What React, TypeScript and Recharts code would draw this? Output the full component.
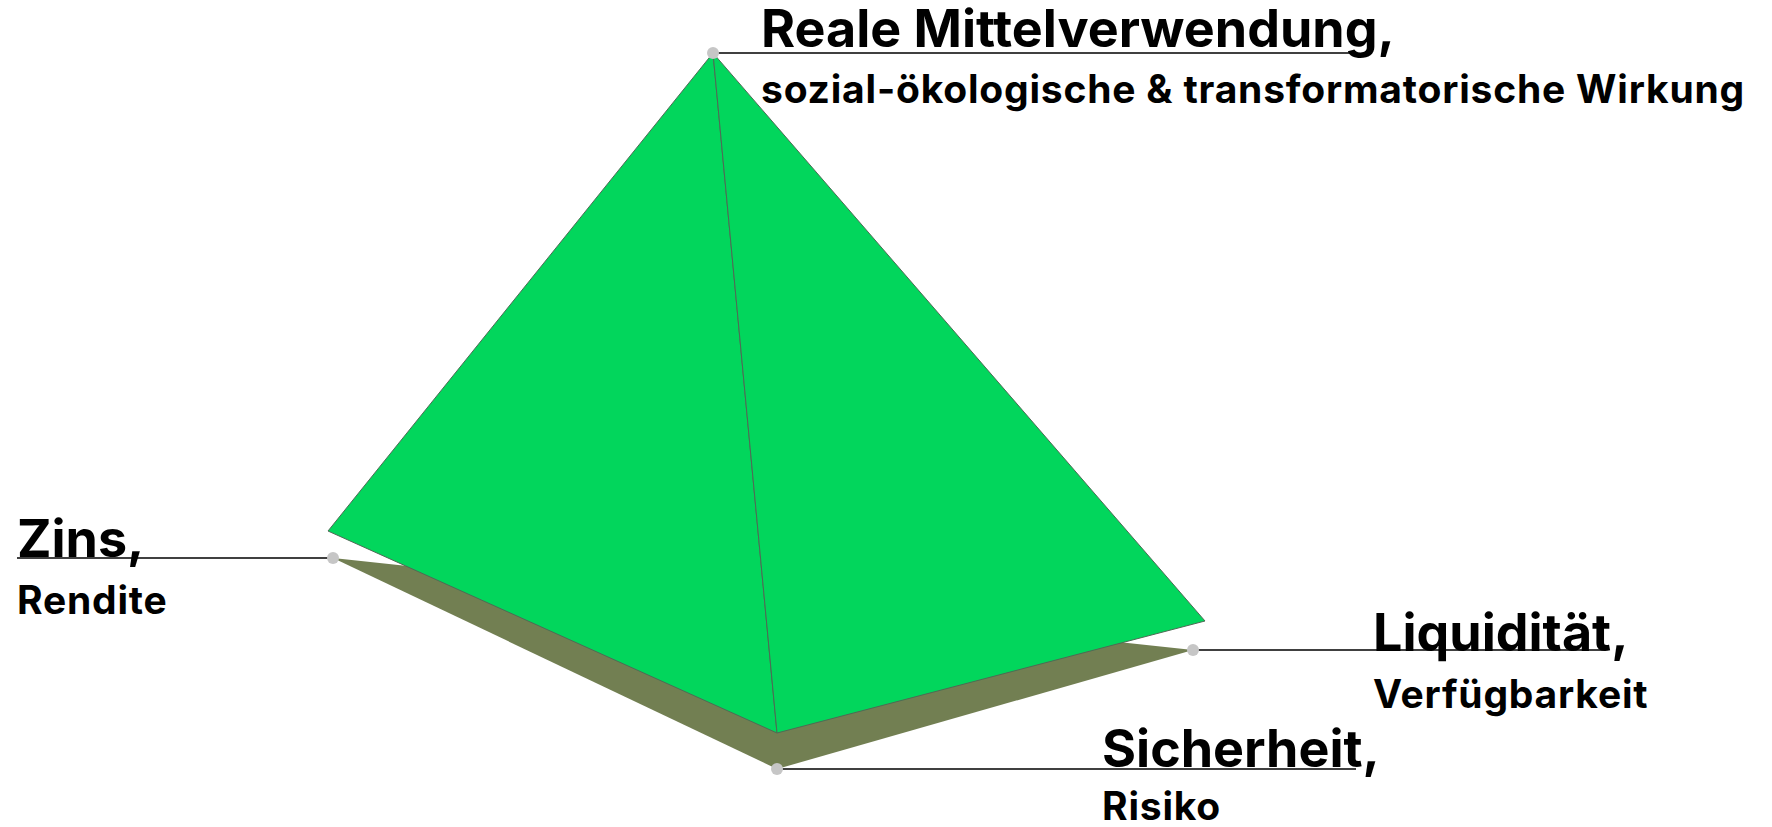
import React from "react";
import { ScatterChart, Scatter, XAxis, YAxis } from "recharts";

// Vertices of the pyramid (pixel-like data units, y grows downward)
const apex = { x: 713, y: 53 };
const leftCorner = { x: 328, y: 531 };
const frontCorner = { x: 777, y: 733 };
const rightCorner = { x: 1205, y: 621 };

// Shadow / base anchor points (grey dots)
const leftDot = { x: 333, y: 558 };
const frontDot = { x: 777, y: 769 };
const rightDot = { x: 1193, y: 650 };
const apexDot = { x: 713, y: 53 };

const leftFace = [apex, leftCorner, frontCorner, apex];
const rightFace = [apex, frontCorner, rightCorner, apex];
const shadow = [leftDot, frontDot, rightDot, leftDot];
const dots = [apexDot, leftDot, frontDot, rightDot];

// Leader lines: from dot to end of the label underline
const leaderTop = [apexDot, { x: 1357, y: 53 }];
const leaderLeft = [{ x: 17, y: 558 }, leftDot];
const leaderRight = [rightDot, { x: 1605, y: 650 }];
const leaderBottom = [frontDot, { x: 1356, y: 769 }];

const titles = ["Reale Mittelverwendung,", "Zins,", "Liquidität,", "Sicherheit,"];
const subtitles = [
  "sozial-ökologische & transformatorische Wirkung",
  "Rendite",
  "Verfügbarkeit",
  "Risiko",
];
const labelX = [761, 17, 1373, 1102];
const labelY = [47, 557, 651, 767];
const subGap = [56, 57, 57, 53];

const labels = titles.map((t, i) => ({
  x: labelX[i],
  y: labelY[i],
  title: t,
  sub: subtitles[i],
  gap: subGap[i],
}));

const FONT = "Inter, 'Noto Sans', sans-serif";
const GREEN = "#02d65c";
const OLIVE = "#727f52";
const EDGE = "#4f6a55";

const noShape = () => <g />;

const dotShape = (p: any) => <circle cx={p.cx} cy={p.cy} r={6} fill="#c6c6c6" />;

const labelShape = (p: any) => {
  const d = p.payload;
  return (
    <g fontFamily={FONT} fontWeight={700} fill="#000">
      <text x={p.cx} y={p.cy} fontSize={52}>
        {d.title}
      </text>
      <text x={p.cx} y={p.cy + d.gap} fontSize={39} letterSpacing={0.8}>
        {d.sub}
      </text>
    </g>
  );
};

export default function App() {
  return (
    <div style={{ position: "absolute", left: 0, top: 0, background: "#fff" }}>
      <ScatterChart width={1772} height={827} margin={{ top: 0, right: 0, bottom: 0, left: 0 }}>
        <XAxis type="number" dataKey="x" domain={[0, 1772]} hide />
        <YAxis type="number" dataKey="y" domain={[0, 827]} reversed hide />
        <Scatter
          data={shadow}
          shape={noShape}
          line={{ fill: OLIVE, stroke: "none" }}
          isAnimationActive={false}
        />
        <Scatter
          data={leftFace}
          shape={noShape}
          line={{ fill: GREEN, stroke: EDGE, strokeWidth: 1 }}
          isAnimationActive={false}
        />
        <Scatter
          data={rightFace}
          shape={noShape}
          line={{ fill: GREEN, stroke: EDGE, strokeWidth: 1 }}
          isAnimationActive={false}
        />
        {[leaderTop, leaderLeft, leaderRight, leaderBottom].map((seg, i) => (
          <Scatter
            key={i}
            data={seg}
            shape={noShape}
            line={{ fill: "none", stroke: "#000", strokeWidth: 1.6 }}
            isAnimationActive={false}
          />
        ))}
        <Scatter data={dots} shape={dotShape} isAnimationActive={false} />
        <Scatter data={labels} shape={labelShape} isAnimationActive={false} />
      </ScatterChart>
    </div>
  );
}
